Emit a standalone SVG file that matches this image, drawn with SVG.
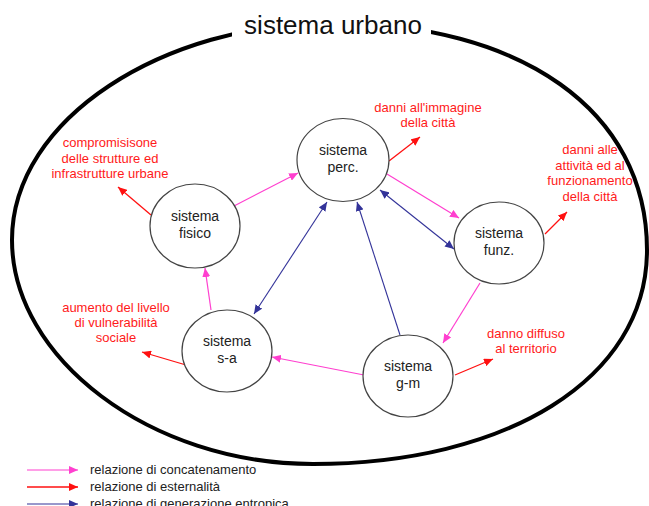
<svg xmlns="http://www.w3.org/2000/svg" width="649" height="506" viewBox="0 0 649 506">
<style>
.node ellipse{fill:#fff;stroke:#444;stroke-width:1.2}
.nt{font-family:"Liberation Sans",Arial,sans-serif;font-size:14px;fill:#222;text-anchor:middle}
.lbl{font-family:"Liberation Sans",Arial,sans-serif;font-size:13px;fill:#ff1a1a;text-anchor:middle}
.leg{font-family:"Liberation Sans",Arial,sans-serif;font-size:13px;fill:#222}
.pink{stroke:#ff3fcf;stroke-width:1.2;fill:none;marker-end:url(#ap)}
.red{stroke:#ff1010;stroke-width:1.3;fill:none;marker-end:url(#ar)}
.blue{stroke:#333399;stroke-width:1.1;fill:none;marker-end:url(#ab)}
.blue2{stroke:#333399;stroke-width:1.1;fill:none;marker-end:url(#ab);marker-start:url(#ab)}
</style>
<defs>
<marker id="ap" markerUnits="userSpaceOnUse" markerWidth="10" markerHeight="8" refX="9" refY="4" orient="auto-start-reverse"><path d="M0,0 L9,4 L0,8 z" fill="#ff3fcf"/></marker>
<marker id="ar" markerUnits="userSpaceOnUse" markerWidth="10" markerHeight="8" refX="9" refY="4" orient="auto-start-reverse"><path d="M0,0 L9,4 L0,8 z" fill="#ff1010"/></marker>
<marker id="ab" markerUnits="userSpaceOnUse" markerWidth="10" markerHeight="8" refX="9" refY="4" orient="auto-start-reverse"><path d="M0,0 L9,4 L0,8 z" fill="#333399"/></marker>
</defs>
<rect width="649" height="506" fill="#fff"/>
<g id="boundary">
<path d="M331,23 C520,23 647,110 647,250 C647,380 505,464 313,464 C150,464 12,358 12,240 C12,118 165,23 331,23 Z" fill="none" stroke="#000" stroke-width="4"/>
<rect x="232" y="5" width="199" height="40" fill="#fff"/>
<text x="333" y="34" font-family="'Liberation Sans',Arial,sans-serif" font-size="26" fill="#111" text-anchor="middle">sistema urbano</text>
</g>
<g id="connectors">
<line class="pink" x1="234" y1="206" x2="298" y2="173"/>
<line class="pink" x1="387" y1="174" x2="459" y2="218"/>
<line class="pink" x1="480" y1="283" x2="443" y2="343"/>
<line class="pink" x1="364" y1="375" x2="272" y2="357"/>
<line class="pink" x1="211" y1="310" x2="205" y2="268"/>
<line class="red" x1="389" y1="161" x2="420" y2="137"/>
<line class="red" x1="151" y1="215" x2="118" y2="187"/>
<line class="red" x1="545" y1="234" x2="567" y2="212"/>
<line class="red" x1="186" y1="365" x2="142" y2="352"/>
<line class="red" x1="455" y1="375" x2="493" y2="359"/>
<line class="blue2" x1="380" y1="190" x2="454" y2="249"/>
<line class="blue2" x1="327" y1="202" x2="254" y2="314"/>
<line class="blue" x1="400" y1="335" x2="357" y2="202"/>
</g>
<g id="node-perc" class="node"><ellipse cx="343" cy="160" rx="46" ry="41.5"/><text class="nt" x="343" y="155">sistema</text><text class="nt" x="343" y="172">perc.</text></g>
<g id="node-fisico" class="node"><ellipse cx="195" cy="226" rx="45" ry="42"/><text class="nt" x="195" y="221">sistema</text><text class="nt" x="195" y="238">fisico</text></g>
<g id="node-funz" class="node"><ellipse cx="499" cy="243" rx="45" ry="41"/><text class="nt" x="499" y="238">sistema</text><text class="nt" x="499" y="255">funz.</text></g>
<g id="node-sa" class="node"><ellipse cx="227" cy="351" rx="45" ry="41"/><text class="nt" x="227" y="346">sistema</text><text class="nt" x="227" y="363">s-a</text></g>
<g id="node-gm" class="node"><ellipse cx="408" cy="376" rx="45" ry="41"/><text class="nt" x="408" y="371">sistema</text><text class="nt" x="408" y="388">g-m</text></g>
<g id="labels">
<text class="lbl" x="428" y="112">danni all'immagine</text>
<text class="lbl" x="428" y="127">della città</text>
<text class="lbl" x="110" y="147">compromisisone</text>
<text class="lbl" x="110" y="162.5">delle strutture ed</text>
<text class="lbl" x="110" y="178">infrastrutture urbane</text>
<text class="lbl" x="590" y="154">danni alle</text>
<text class="lbl" x="590" y="169.5">attività ed al</text>
<text class="lbl" x="590" y="185">funzionamento</text>
<text class="lbl" x="590" y="200.5">della città</text>
<text class="lbl" x="116" y="312">aumento del livello</text>
<text class="lbl" x="116" y="327">di vulnerabilità</text>
<text class="lbl" x="116" y="342">sociale</text>
<text class="lbl" x="526" y="338">danno diffuso</text>
<text class="lbl" x="526" y="353">al territorio</text>
</g>
<g id="legend">
<line class="pink" x1="27" y1="470" x2="78" y2="470"/>
<line class="red" x1="27" y1="487" x2="78" y2="487"/>
<line class="blue" x1="27" y1="504" x2="78" y2="504"/>
<text class="leg" x="90" y="474">relazione di concatenamento</text>
<text class="leg" x="90" y="491">relazione di esternalità</text>
<text class="leg" x="90" y="508">relazione di generazione entropica</text>
</g>
</svg>
